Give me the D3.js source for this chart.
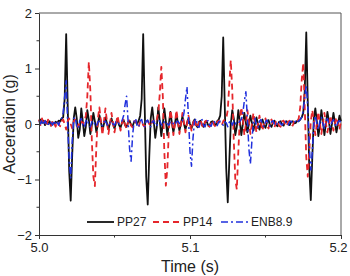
<!DOCTYPE html>
<html>
<head>
<meta charset="utf-8">
<script src="https://cdn.jsdelivr.net/npm/d3@7"></script>
<style>
  body{margin:0;background:#fff;}
  text{font-family:"Liberation Sans",Arial,sans-serif;fill:#222;}
</style>
</head>
<body>
<svg id="chart" width="350" height="276"></svg>
<script>
// sampling grid: 1 ms steps from 5.000 s to 5.200 s
var tStart=5.0, tStep=0.001;

// PP27 acceleration (g), one value per ms
var pp27=[
  0.05,0.08,0.02,0.06,-0.02,0.04,0.0,0.05,-0.03,0.03,0.0,0.04,0.02,0.06,0.05,0.1,0.12,0.45,1.62,0.35,
  -0.85,-1.38,-0.55,0.1,0.3,0.1,-0.25,-0.1,0.28,0.05,-0.22,-0.05,0.25,0.08,-0.18,-0.02,0.2,0.05,-0.15,0.0,
  0.16,0.04,-0.12,0.0,0.12,0.02,-0.1,0.02,0.1,0.0,-0.08,0.02,0.08,-0.02,-0.07,0.03,0.07,-0.02,-0.05,0.03,
  0.06,-0.02,-0.04,0.04,0.05,0.0,0.06,0.15,0.45,1.62,0.3,-0.95,-1.45,-0.6,0.1,0.3,0.05,-0.25,-0.05,0.3,
  0.05,-0.22,0.0,0.28,0.05,-0.2,0.0,0.22,0.02,-0.15,0.0,0.18,0.02,-0.12,0.0,0.14,0.0,-0.1,0.02,0.1,
  0.0,-0.08,0.02,0.08,-0.02,-0.06,0.04,0.06,-0.02,-0.05,0.04,0.05,-0.02,-0.04,0.04,0.05,0.0,-0.02,0.05,0.08,
  0.15,0.5,1.56,0.35,-0.8,-1.41,-0.7,0.0,0.25,0.1,-0.2,-0.05,0.25,0.05,-0.2,0.0,0.2,0.02,-0.15,0.0,
  0.15,0.02,-0.12,0.0,0.12,0.0,-0.1,0.02,0.08,-0.02,-0.07,0.03,0.07,-0.02,-0.05,0.03,0.06,-0.02,-0.04,0.04,
  0.05,-0.01,-0.03,0.04,0.05,0.0,-0.02,0.04,0.05,0.01,0.02,0.06,0.05,0.08,0.12,0.2,0.6,1.65,0.4,-0.8,
  -1.37,-0.6,0.1,0.28,0.05,-0.22,-0.05,0.25,0.05,-0.2,0.0,0.22,0.05,-0.18,0.0,0.2,0.02,-0.15,0.0,0.15,
  0.05
];

// PP14 acceleration (g)
var pp14=[
  0.08,-0.02,0.1,0.0,0.06,-0.04,0.08,0.02,-0.03,0.06,0.02,-0.05,0.05,0.0,-0.04,0.05,0.08,0.0,-0.1,0.05,
  0.1,0.0,-0.08,0.05,0.08,-0.02,-0.05,0.06,0.05,0.0,0.05,0.15,0.5,1.12,0.6,-0.3,-0.95,-1.12,-0.4,0.1,
  0.3,0.05,-0.2,0.05,0.28,0.05,-0.18,0.0,0.2,0.02,-0.15,0.0,0.15,0.0,-0.12,0.02,0.1,-0.02,-0.08,0.04,
  0.08,-0.03,-0.06,0.05,0.06,-0.03,-0.05,0.05,0.06,-0.02,-0.05,0.04,0.06,0.0,-0.04,0.05,0.06,0.02,0.08,0.2,
  0.55,1.03,0.5,-0.5,-1.11,-0.8,-0.1,0.25,0.1,-0.2,0.0,0.25,0.05,-0.18,0.0,0.2,0.02,-0.15,0.0,0.15,
  0.0,-0.12,0.02,0.1,-0.02,-0.08,0.04,0.08,-0.03,-0.06,0.05,0.06,-0.03,-0.05,0.05,0.06,-0.02,-0.05,0.04,0.06,
  0.0,-0.03,0.05,0.08,0.1,0.25,0.7,1.15,0.6,-0.3,-1.0,-1.18,-0.5,0.1,0.3,0.1,-0.2,0.0,0.25,0.05,
  -0.18,0.0,0.2,0.02,-0.15,0.0,0.15,0.0,-0.12,0.02,0.1,-0.02,-0.08,0.04,0.08,-0.03,-0.06,0.05,0.06,-0.03,
  -0.05,0.05,0.06,-0.02,-0.04,0.04,0.06,0.0,-0.03,0.05,0.06,0.04,0.1,0.3,0.8,1.1,0.3,-0.6,-0.95,-0.5,
  0.05,0.25,0.05,-0.2,0.0,0.22,0.02,-0.18,0.0,0.2,0.02,-0.15,0.0,0.15,0.0,-0.12,0.02,0.12,0.0,-0.1,
  0.05
];

// ENB8.9 acceleration (g)
var enb89=[
  0.05,0.0,0.08,-0.02,0.06,0.0,-0.03,0.05,0.02,-0.02,0.06,0.0,0.04,-0.02,0.05,0.1,0.2,0.5,0.78,0.0,
  -0.7,-0.97,-0.3,0.1,0.12,-0.05,-0.08,0.06,0.1,-0.02,-0.06,0.05,0.08,-0.02,-0.05,0.04,0.06,-0.02,-0.04,0.04,
  0.05,0.0,-0.03,0.04,0.05,-0.01,-0.03,0.03,0.05,0.0,-0.02,0.04,0.05,0.0,0.03,0.06,0.15,0.35,0.5,0.05,
  -0.45,-0.67,-0.2,0.05,0.1,-0.04,-0.06,0.06,0.08,-0.03,-0.05,0.05,0.07,-0.02,-0.05,0.04,0.06,-0.02,-0.04,0.04,
  0.06,-0.01,-0.03,0.04,0.05,0.0,-0.02,0.04,0.05,0.0,-0.02,0.04,0.05,0.01,0.03,0.06,0.2,0.45,0.67,0.1,
  -0.5,-0.76,-0.25,0.05,0.1,-0.04,-0.06,0.06,0.08,-0.03,-0.05,0.05,0.06,-0.02,-0.04,0.04,0.06,-0.01,-0.03,0.04,
  0.05,0.0,-0.02,0.04,0.02,-0.05,0.03,0.06,-0.02,0.05,0.0,0.04,0.02,0.05,0.08,0.2,0.42,0.58,0.1,-0.45,
  -0.72,-0.3,0.05,0.1,-0.03,-0.06,0.05,0.08,-0.02,-0.05,0.04,0.07,-0.02,-0.04,0.04,0.06,-0.01,-0.03,0.04,0.05,
  0.0,-0.02,0.04,0.05,0.0,-0.02,0.04,0.05,0.01,0.03,0.05,0.02,0.06,0.08,0.12,0.25,0.5,0.7,0.3,-0.4,
  -0.83,-0.5,0.0,0.15,0.0,-0.1,0.05,0.12,0.0,-0.08,0.05,0.1,0.0,-0.06,0.04,0.08,0.0,-0.05,0.04,0.06,
  0.02
];

var seriesNames=["PP27","PP14","ENB8.9"];
var xTicks=[5.0,5.1,5.2];
var xMinorTicks=[5.05,5.15];
var yTicks=[-2,-1,0,1,2];
var yMinorTicks=[-1.5,-0.5,0.5,1.5];

var svg=d3.select("#chart");
var margin={left:39,top:13,right:9,bottom:41};
var W=350-margin.left-margin.right, H=276-margin.top-margin.bottom;

var x=d3.scaleLinear().domain([5.0,5.2]).range([0,W]);
var y=d3.scaleLinear().domain([-2,2]).range([H,0]);

var g=svg.append("g").attr("transform","translate("+margin.left+","+margin.top+")");

// frame (top/right)
g.append("line").attr("x1",0).attr("x2",W).attr("y1",0).attr("y2",0).attr("stroke","#555").attr("stroke-width",1);
g.append("line").attr("x1",W).attr("x2",W).attr("y1",0).attr("y2",H).attr("stroke","#555").attr("stroke-width",1);

// series lines
var styles=[
  {data:pp27,color:"#111",width:1.8,dash:null},
  {data:pp14,color:"#e5262b",width:1.8,dash:"6,4"},
  {data:enb89,color:"#2030dd",width:1.5,dash:"7,3,2,3"}
];
var line=d3.line()
  .x(function(d,i){return x(tStart+i*tStep);})
  .y(function(d){return y(d);});

styles.forEach(function(s){
  g.append("path")
    .attr("d",line(s.data))
    .attr("fill","none")
    .attr("stroke",s.color)
    .attr("stroke-width",s.width)
    .attr("stroke-dasharray",s.dash)
    .attr("stroke-linejoin","round");
});

// axes
var xAxis=d3.axisBottom(x).tickValues(xTicks).tickFormat(d3.format(".1f")).tickSizeInner(4).tickSizeOuter(0).tickPadding(4);
var xa=g.append("g").attr("transform","translate(0,"+H+")").call(xAxis);
xa.selectAll(".tick").filter(function(d){return d===5.2;}).select("text").attr("text-anchor","end").attr("dx","6");
xa.selectAll(".tick line").attr("stroke","#333");
xa.select(".domain").attr("stroke","#333");
xMinorTicks.forEach(function(t){
  xa.append("line").attr("x1",x(t)).attr("x2",x(t)).attr("y1",0).attr("y2",2.5).attr("stroke","#333");
});

var yAxis=d3.axisLeft(y).tickValues(yTicks).tickFormat(d3.format("d")).tickSizeInner(4).tickSizeOuter(0).tickPadding(3);
var ya=g.append("g").call(yAxis);
ya.selectAll(".tick line").attr("stroke","#333");
ya.select(".domain").attr("stroke","#333");
yMinorTicks.forEach(function(t){
  ya.append("line").attr("x1",0).attr("x2",-2.5).attr("y1",y(t)).attr("y2",y(t)).attr("stroke","#333");
});

svg.selectAll(".tick text").style("font-size","13px").style("font-family","Liberation Sans, Arial, sans-serif").attr("fill","#222");

// axis titles
svg.append("text").attr("x",margin.left+W/2).attr("y",272).attr("text-anchor","middle")
  .style("font-size","16px").text("Time (s)");
svg.append("text").attr("transform","translate(15,"+(margin.top+H/2)+") rotate(-90)").attr("text-anchor","middle")
  .style("font-size","16px").text("Acceration (g)");

// legend
var legX=[87,153,221];
var legend=g.append("g").attr("transform","translate(0,"+(222-margin.top)+")");
styles.forEach(function(s,i){
  var lx=legX[i]-margin.left;
  legend.append("line").attr("x1",lx).attr("x2",lx+27).attr("y1",0).attr("y2",0)
    .attr("stroke",s.color).attr("stroke-width",s.width).attr("stroke-dasharray",s.dash);
  legend.append("text").attr("x",lx+30).attr("y",0).attr("dy","0.35em")
    .style("font-size","12px").text(seriesNames[i]);
});
</script>
</body>
</html>
